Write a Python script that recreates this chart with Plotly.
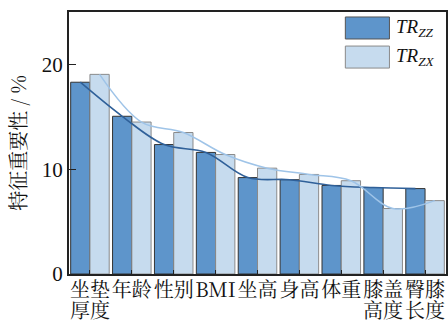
import plotly.graph_objects as go

categories = ["坐垫", "年龄", "性别", "BMI", "坐高", "身高", "体重", "膝盖", "臀膝"]
categories_line2 = ["厚度", "", "", "", "", "", "", "高度", "长度"]
tr_zz = [18.3, 15.05, 12.35, 11.6, 9.2, 9.0, 8.45, 8.25, 8.15]
tr_zx = [19.05, 14.5, 13.5, 11.4, 10.1, 9.5, 8.9, 6.25, 7.0]
y_ticks = [0, 10, 20]

idx = list(range(len(categories)))
W = 0.46
FONT = "Liberation Serif, Times New Roman, Noto Serif CJK SC, Noto Sans CJK SC, serif"
CJK = "Noto Serif CJK SC, Noto Sans CJK SC, Liberation Serif, serif"

fig = go.Figure()
fig.add_trace(go.Bar(x=idx, y=tr_zz, width=W, offset=-W,
                     marker=dict(color="#5e95cb", line=dict(color="#333333", width=1)),
                     showlegend=False))
fig.add_trace(go.Bar(x=idx, y=tr_zx, width=W, offset=0,
                     marker=dict(color="#c6dbee", line=dict(color="#8a8a8a", width=1)),
                     showlegend=False))
fig.add_trace(go.Scatter(x=[i - W / 2 for i in idx], y=tr_zz, mode="lines",
                         line=dict(color="#2f6099", width=1.6, shape="spline", smoothing=1.0),
                         showlegend=False))
fig.add_trace(go.Scatter(x=[i + W / 2 for i in idx], y=tr_zx, mode="lines",
                         line=dict(color="#9fc4e8", width=1.5, shape="spline", smoothing=1.0),
                         showlegend=False))

# second line of the category labels
for i, t in zip(idx, categories_line2):
    if t:
        fig.add_annotation(x=i, xref="x", yref="paper", y=-0.137, yanchor="middle",
                           text=t, showarrow=False,
                           font=dict(family=CJK, size=20, color="#111111"))

# manual legend
fig.add_shape(type="rect", xref="paper", yref="paper", x0=0.733, x1=0.85, y0=0.897, y1=0.981,
              fillcolor="#5e95cb", line=dict(color="#555555", width=1))
fig.add_shape(type="rect", xref="paper", yref="paper", x0=0.733, x1=0.85, y0=0.786, y1=0.870,
              fillcolor="#c6dbee", line=dict(color="#8a8a8a", width=1))
fig.add_annotation(xref="paper", yref="paper", x=0.862, y=0.939, xanchor="left", yanchor="middle",
                   text="<i>TR</i><sub><i>ZZ</i></sub>", showarrow=False,
                   font=dict(family=FONT, size=19, color="#111111"))
fig.add_annotation(xref="paper", yref="paper", x=0.862, y=0.828, xanchor="left", yanchor="middle",
                   text="<i>TR</i><sub><i>ZX</i></sub>", showarrow=False,
                   font=dict(family=FONT, size=19, color="#111111"))

fig.update_layout(
    width=448, height=320,
    margin=dict(l=69, r=2, t=12, b=46),
    plot_bgcolor="white", paper_bgcolor="white",
    barmode="overlay",
    font=dict(family=FONT, size=19, color="#111111"),
)
fig.update_xaxes(range=[-0.5, len(categories) - 0.5], tickvals=idx, ticktext=categories,
                 ticks="inside", ticklen=4, tickcolor="#222222", automargin=False, tickangle=0,
                 showline=True, linecolor="#222222", linewidth=2, mirror=True,
                 showgrid=False, zeroline=False, ticklabelstandoff=-3,
                 tickfont=dict(family=CJK, size=20))
fig.update_yaxes(range=[0, 25], tickvals=y_ticks, ticks="inside", ticklen=7, tickcolor="#222222",
                 showline=True, linecolor="#222222", linewidth=2, mirror=True,
                 showgrid=False, zeroline=False, automargin=False,
                 title=dict(text="特征重要性 / %", standoff=10,
                            font=dict(family=CJK, size=20)),
                 tickfont=dict(family=FONT, size=21))

fig.write_html("out.html")
